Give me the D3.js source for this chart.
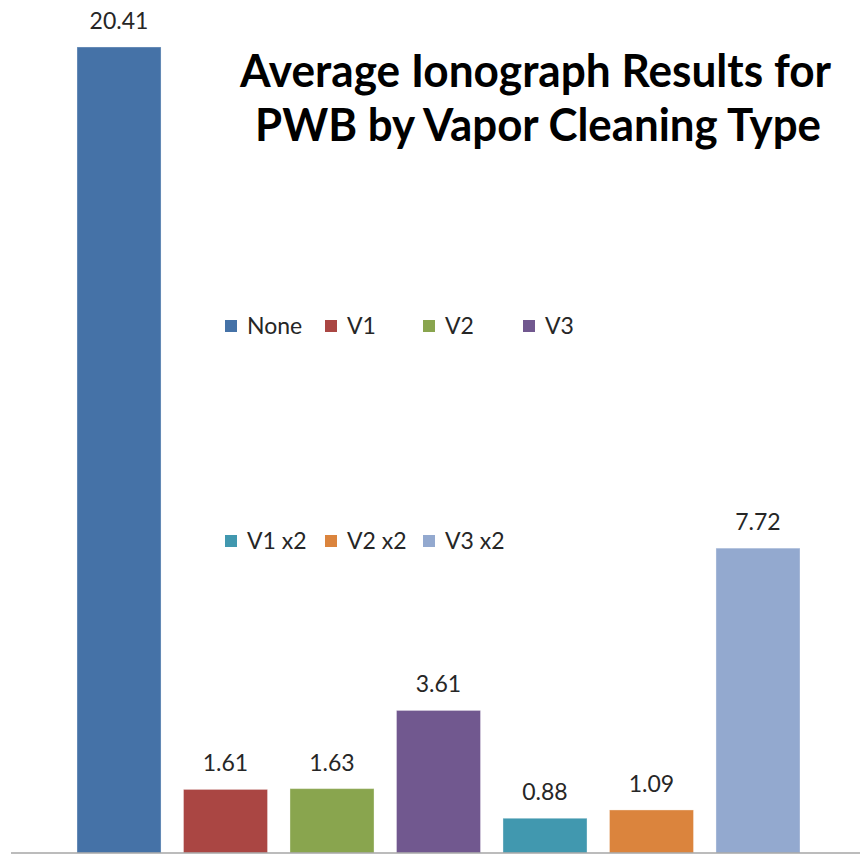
<!DOCTYPE html>
<html>
<head>
<meta charset="utf-8">
<script src="https://cdn.jsdelivr.net/npm/d3@7"></script>
<style>
	html, body { margin: 0; padding: 0; background: #fff; }
	svg { display: block; font-family: Lato, "Open Sans", sans-serif; }
</style>
</head>
<body>
<svg width="860" height="854"></svg>
<script>
const categories = ["None", "V1", "V2", "V3", "V1 x2", "V2 x2", "V3 x2"];
const values = [20.41, 1.61, 1.63, 3.61, 0.88, 1.09, 7.72];
const colors = ["#4572a7", "#aa4643", "#89a54e", "#71588f", "#4198af", "#db843d", "#93a9cf"];
const titleLines = ["Average Ionograph Results for", "PWB by Vapor Cleaning Type"];

let svg = d3.select("svg"),
	baseY = 853;

let x = d3.scaleBand()
	.domain(categories)
	.range([65.75, 811.25])
	.paddingInner(0.211)
	.paddingOuter(0.1056);

let y = d3.scaleLinear()
	.domain([0, 21.6])
	.range([baseY, 0]);

let data = categories.map((c, i) => ({ cat: c, val: values[i], color: colors[i] }));

let gbars = svg.append("g").attr("class", "bars");
gbars.selectAll("rect")
		.data(data)
	.enter().append("rect")
		.attr("x", d => x(d.cat))
		.attr("width", x.bandwidth())
		.attr("y", d => y(d.val))
		.attr("height", d => baseY - y(d.val))
		.attr("fill", d => d.color)
		.attr("stroke", "rgba(255,255,255,0.35)")
		.attr("stroke-width", 1);

gbars.selectAll("text")
		.data(data)
	.enter().append("text")
		.attr("x", d => x(d.cat) + x.bandwidth() / 2)
		.attr("y", d => y(d.val) - 18)
		.attr("text-anchor", "middle")
		.attr("font-size", 23)
		.attr("fill", "#262626")
		.text(d => d.val.toFixed(2));

// axis line
svg.append("line")
	.attr("x1", 11).attr("x2", 860)
	.attr("y1", baseY).attr("y2", baseY)
	.attr("stroke", "#a6a6a6")
	.attr("stroke-width", 1.5);

// title
let gtitle = svg.append("g").attr("class", "title");
gtitle.selectAll("text")
		.data(titleLines)
	.enter().append("text")
		.attr("x", (d, i) => i ? 538 : 535.5)
		.attr("y", (d, i) => 87 + i * 54)
		.attr("text-anchor", "middle")
		.attr("font-size", 46)
		.attr("font-weight", "bold")
		.attr("fill", "#000")
		.attr("textLength", (d, i) => i ? 566 : 591)
		.attr("lengthAdjust", "spacingAndGlyphs")
		.text(d => d);

// legend: two rows
let legendPos = [
	[225, 326], [325, 326], [423, 326], [523, 326],
	[225, 541], [325, 541], [423, 541]
];
let glegend = svg.append("g").attr("class", "legend");
let items = glegend.selectAll("g")
		.data(data)
	.enter().append("g")
		.attr("transform", (d, i) => `translate(${legendPos[i][0]},${legendPos[i][1]})`);
items.append("rect")
	.attr("x", 0).attr("y", -6)
	.attr("width", 12).attr("height", 12)
	.attr("fill", d => d.color);
items.append("text")
	.attr("x", 22).attr("y", 8)
	.attr("font-size", 23)
	.attr("fill", "#262626")
	.text(d => d.cat);
</script>
</body>
</html>
